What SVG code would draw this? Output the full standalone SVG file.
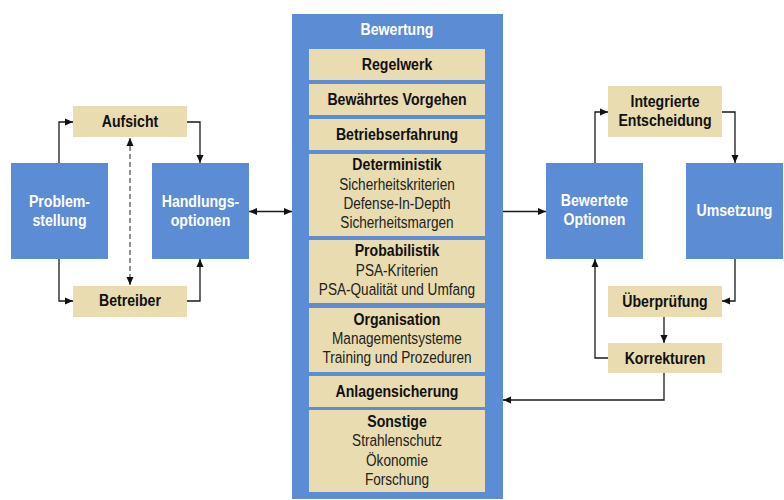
<svg xmlns="http://www.w3.org/2000/svg" width="784" height="500" viewBox="0 0 784 500">
  <defs>
    <marker id="ah" viewBox="0 0 8 8" refX="8" refY="4" markerWidth="8" markerHeight="8" markerUnits="userSpaceOnUse" orient="auto-start-reverse">
      <path d="M0,0.5 L8,4 L0,7.5 Z" fill="#111"/>
    </marker>
    <style>
      .blue { fill: #5c8cd4; }
      .tan { fill: #e8dcb0; }
      text {
        font-family: "Liberation Sans", Arial, sans-serif;
        font-size: 17px;
        text-anchor: middle;
        transform-box: fill-box;
        transform-origin: center;
        transform: scaleX(0.83);
      }
      .w { fill: #ffffff; font-weight: bold; }
      .b { fill: #111111; font-weight: bold; }
      .r { fill: #222222; font-weight: normal; transform: scaleX(0.8); }
      .c { fill: none; stroke: #1a1a1a; stroke-width: 1.3; }
      .d { fill: none; stroke: #555; stroke-width: 1.3; stroke-dasharray: 5 3; }
    </style>
  </defs>

  <rect width="784" height="500" fill="#ffffff"/>

  <!-- left cluster -->
  <g id="problemstellung">
    <rect class="blue" x="11" y="163" width="97" height="96"/>
    <text class="w" x="59.5" y="207">Problem-</text>
    <text class="w" x="59.5" y="226">stellung</text>
  </g>
  <g id="aufsicht">
    <rect class="tan" x="73" y="106" width="114" height="31"/>
    <text class="b" x="130" y="127">Aufsicht</text>
  </g>
  <g id="betreiber">
    <rect class="tan" x="73" y="286" width="114" height="31"/>
    <text class="b" x="130" y="306.5">Betreiber</text>
  </g>
  <g id="handlungsoptionen">
    <rect class="blue" x="152" y="163" width="97" height="96"/>
    <text class="w" x="200.5" y="207">Handlungs-</text>
    <text class="w" x="200.5" y="226">optionen</text>
  </g>

  <!-- central assessment column -->
  <g id="bewertung">
    <rect class="blue" x="292" y="14" width="211" height="485"/>
    <text class="w" x="397" y="35.5">Bewertung</text>
  </g>
  <g id="regelwerk">
    <rect class="tan" x="309" y="49" width="176" height="31"/>
    <text class="b" x="397" y="70.5">Regelwerk</text>
  </g>
  <g id="vorgehen">
    <rect class="tan" x="309" y="84" width="176" height="31"/>
    <text class="b" x="397" y="105.5">Bewährtes Vorgehen</text>
  </g>
  <g id="betriebserfahrung">
    <rect class="tan" x="309" y="119" width="176" height="31"/>
    <text class="b" x="397" y="140.5">Betriebserfahrung</text>
  </g>
  <g id="deterministik">
    <rect class="tan" x="309" y="154" width="176" height="82"/>
    <text class="b" x="397" y="170.5">Deterministik</text>
    <text class="r" x="397" y="190">Sicherheitskriterien</text>
    <text class="r" x="397" y="209">Defense-In-Depth</text>
    <text class="r" x="397" y="228">Sicherheitsmargen</text>
  </g>
  <g id="probabilistik">
    <rect class="tan" x="309" y="240" width="176" height="63"/>
    <text class="b" x="397" y="256.5">Probabilistik</text>
    <text class="r" x="397" y="276">PSA-Kriterien</text>
    <text class="r" x="397" y="295">PSA-Qualität und Umfang</text>
  </g>
  <g id="organisation">
    <rect class="tan" x="309" y="308" width="176" height="64"/>
    <text class="b" x="397" y="325">Organisation</text>
    <text class="r" x="397" y="344">Managementsysteme</text>
    <text class="r" x="397" y="363">Training und Prozeduren</text>
  </g>
  <g id="anlagensicherung">
    <rect class="tan" x="309" y="376" width="176" height="31"/>
    <text class="b" x="397" y="397">Anlagensicherung</text>
  </g>
  <g id="sonstige">
    <rect class="tan" x="309" y="410" width="176" height="82"/>
    <text class="b" x="397" y="427">Sonstige</text>
    <text class="r" x="397" y="446.5">Strahlenschutz</text>
    <text class="r" x="397" y="466">Ökonomie</text>
    <text class="r" x="397" y="485">Forschung</text>
  </g>

  <!-- right cluster -->
  <g id="bewertete-optionen">
    <rect class="blue" x="546" y="163" width="97" height="96"/>
    <text class="w" x="594.5" y="206.5">Bewertete</text>
    <text class="w" x="594.5" y="225.5">Optionen</text>
  </g>
  <g id="integrierte-entscheidung">
    <rect class="tan" x="608" y="86" width="114" height="51"/>
    <text class="b" x="665" y="107">Integrierte</text>
    <text class="b" x="665" y="126.5">Entscheidung</text>
  </g>
  <g id="umsetzung">
    <rect class="blue" x="686" y="163" width="97" height="96"/>
    <text class="w" x="734.5" y="216">Umsetzung</text>
  </g>
  <g id="ueberpruefung">
    <rect class="tan" x="608" y="286" width="114" height="31"/>
    <text class="b" x="665" y="307.5">Überprüfung</text>
  </g>
  <g id="korrekturen">
    <rect class="tan" x="608" y="343" width="114" height="30"/>
    <text class="b" x="665" y="364">Korrekturen</text>
  </g>

  <!-- connectors -->
  <g id="connectors">
    <polyline class="c" points="59,163 59,122 73,122" marker-end="url(#ah)"/>
    <polyline class="c" points="59,259 59,301 73,301" marker-end="url(#ah)"/>
    <polyline class="c" points="187,122 200,122 200,163" marker-end="url(#ah)"/>
    <polyline class="c" points="187,301 200,301 200,259" marker-end="url(#ah)"/>
    <line class="d" x1="130" y1="138" x2="130" y2="285" marker-start="url(#ah)" marker-end="url(#ah)"/>
    <line class="c" x1="249" y1="211.5" x2="292" y2="211.5" marker-start="url(#ah)" marker-end="url(#ah)"/>
    <line class="c" x1="503" y1="211.5" x2="546" y2="211.5" marker-end="url(#ah)"/>
    <polyline class="c" points="595,163 595,112 608,112" marker-end="url(#ah)"/>
    <polyline class="c" points="722,112 735,112 735,163" marker-end="url(#ah)"/>
    <polyline class="c" points="735,259 735,301 722,301" marker-end="url(#ah)"/>
    <line class="c" x1="664" y1="317" x2="664" y2="343" marker-end="url(#ah)"/>
    <polyline class="c" points="608,358 595,358 595,259" marker-end="url(#ah)"/>
    <polyline class="c" points="664,373 664,400 503,400" marker-end="url(#ah)"/>
  </g>
</svg>
